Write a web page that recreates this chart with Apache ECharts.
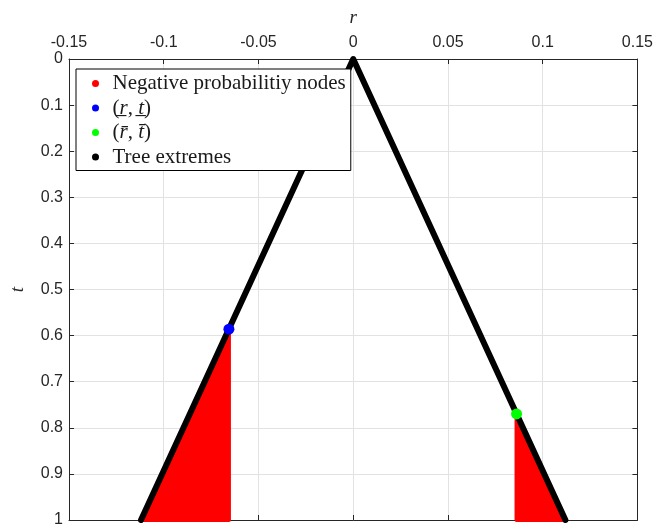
<!DOCTYPE html>
<html>
<head>
<meta charset="utf-8">
<script src="https://cdn.jsdelivr.net/npm/echarts@6/dist/echarts.min.js"></script>
<style>
  html, body { margin: 0; padding: 0; background: #ffffff; }
  #chart { width: 656px; height: 528px; }
</style>
</head>
<body>
<div id="chart"></div>
<script>
// Axis ticks: short rate r (top axis) and time t (left axis, downward)
const rTicks = [-0.15, -0.1, -0.05, 0, 0.05, 0.1, 0.15];
const rStep = 0.05;
const tTicks = [0, 0.1, 0.2, 0.3, 0.4, 0.5, 0.6, 0.7, 0.8, 0.9, 1];
const tStep = 0.1;

// Outer envelope of the trinomial tree: [r, t]
const treeExtremes = [[-0.112, 1], [0, 0], [0.112, 1]];

// First nodes where a branching probability turns negative
const lowerNegNode = [[-0.0656, 0.586]];   // (r_, t_)
const upperNegNode = [[0.0862, 0.770]];    // (r^-, t^-)

// Regions of nodes with negative probabilities: [r, t] vertices
const lowerNegRegion = [[-0.0656, 0.586], [-0.112, 1], [-0.0656, 1]];
const upperNegRegion = [[0.0862, 0.770], [0.112, 1], [0.0862, 1]];

const NAME_NEG = 'Negative probabilitiy nodes';
const NAME_LOW = '(r\u0332, t\u0332)';
const NAME_UP = '(r\u0304, t\u0304)';
const NAME_TREE = 'Tree extremes';

const AXIS_COLOR = '#262626';
const GRID_COLOR = '#e2e2e2';
const SANS = '"Liberation Sans", Arial, Helvetica, sans-serif';
const SERIF = '"Liberation Serif", "Times New Roman", serif';

function regionSeries(name, region) {
  return {
    type: 'custom',
    name: name,
    coordinateSystem: 'cartesian2d',
    data: region,
    encode: { x: 0, y: 1 },
    z: 1,
    clip: false,
    silent: true,
    itemStyle: { color: '#ff0000' },
    renderItem: function (params, api) {
      if (params.dataIndex !== 0) return null;
      const pts = region.map(function (p) { return api.coord(p); });
      return {
        type: 'polygon',
        shape: { points: pts },
        style: { fill: '#ff0000', stroke: '#ff0000', lineWidth: 4, lineJoin: 'round' }
      };
    }
  };
}

function legendText(name) {
  if (name === NAME_LOW) return '({i|r\u0332}, {i|t\u0332})';
  if (name === NAME_UP) return '({i|r\u0304}, {i|t\u0304})';
  return name;
}

const chart = echarts.init(document.getElementById('chart'), null, { renderer: 'canvas' });

chart.setOption({
  animation: false,
  backgroundColor: '#ffffff',
  grid: { left: 65, right: 17, top: 59, bottom: 8, containLabel: false },
  xAxis: [
    {
      type: 'value',
      position: 'top',
      min: rTicks[0],
      max: rTicks[rTicks.length - 1],
      interval: rStep,
      name: 'r',
      nameLocation: 'middle',
      nameGap: 32,
      nameMoveOverlap: false,
      nameTextStyle: { fontFamily: SERIF, fontStyle: 'italic', fontSize: 19, color: AXIS_COLOR },
      axisLine: { show: true, onZero: false, lineStyle: { color: AXIS_COLOR, width: 1 } },
      axisTick: { show: true, inside: true, length: 5, lineStyle: { color: AXIS_COLOR } },
      axisLabel: { fontFamily: SANS, fontSize: 16, color: AXIS_COLOR, margin: 8 },
      splitLine: { show: true, lineStyle: { color: GRID_COLOR, width: 1 } }
    },
    {
      type: 'value',
      position: 'bottom',
      min: rTicks[0],
      max: rTicks[rTicks.length - 1],
      interval: rStep,
      axisLine: { show: true, onZero: false, lineStyle: { color: AXIS_COLOR, width: 1 } },
      axisTick: { show: true, inside: true, length: 5, lineStyle: { color: AXIS_COLOR } },
      axisLabel: { show: false },
      splitLine: { show: false }
    }
  ],
  yAxis: [
    {
      type: 'value',
      position: 'left',
      inverse: true,
      min: tTicks[0],
      max: tTicks[tTicks.length - 1],
      interval: tStep,
      name: 't',
      nameLocation: 'middle',
      nameGap: 42,
      nameMoveOverlap: false,
      nameRotate: 90,
      nameTextStyle: { fontFamily: SERIF, fontStyle: 'italic', fontSize: 19, color: AXIS_COLOR },
      axisLine: { show: true, onZero: false, lineStyle: { color: AXIS_COLOR, width: 1 } },
      axisTick: { show: true, inside: true, length: 5, lineStyle: { color: AXIS_COLOR } },
      axisLabel: { fontFamily: SANS, fontSize: 16, color: AXIS_COLOR, margin: 6 },
      splitLine: { show: true, lineStyle: { color: GRID_COLOR, width: 1 } }
    },
    {
      type: 'value',
      position: 'right',
      inverse: true,
      min: tTicks[0],
      max: tTicks[tTicks.length - 1],
      interval: tStep,
      axisLine: { show: true, onZero: false, lineStyle: { color: AXIS_COLOR, width: 1 } },
      axisTick: { show: true, inside: true, length: 5, lineStyle: { color: AXIS_COLOR } },
      axisLabel: { show: false },
      splitLine: { show: false }
    }
  ],
  legend: {
    orient: 'vertical',
    left: 76,
    top: 69,
    padding: [4, 5, 3, 16],
    itemGap: 3.5,
    itemWidth: 24,
    itemHeight: 7,
    backgroundColor: '#ffffff',
    borderColor: '#000000',
    borderWidth: 1,
    selectedMode: false,
    data: [
      { name: NAME_NEG, icon: 'circle' },
      { name: NAME_LOW, icon: 'circle' },
      { name: NAME_UP, icon: 'circle' },
      { name: NAME_TREE, icon: 'circle' }
    ],
    formatter: legendText,
    textStyle: {
      fontFamily: SERIF,
      fontSize: 21,
      lineHeight: 20,
      color: '#1a1a1a',
      rich: {
        i: { fontFamily: SERIF, fontStyle: 'italic', fontSize: 21, lineHeight: 20, color: '#1a1a1a' }
      }
    }
  },
  series: [
    regionSeries(NAME_NEG, lowerNegRegion),
    regionSeries(NAME_NEG, upperNegRegion),
    {
      type: 'line',
      name: NAME_TREE,
      data: treeExtremes,
      z: 2,
      clip: false,
      silent: true,
      showSymbol: false,
      symbol: 'none',
      itemStyle: { color: '#000000' },
      lineStyle: { color: '#000000', width: 6, cap: 'round', join: 'round' }
    },
    {
      type: 'scatter',
      name: NAME_LOW,
      data: lowerNegNode,
      z: 3,
      symbol: 'circle',
      symbolSize: 11,
      silent: true,
      itemStyle: { color: '#0000ff', opacity: 1 }
    },
    {
      type: 'scatter',
      name: NAME_UP,
      data: upperNegNode,
      z: 3,
      symbol: 'circle',
      symbolSize: 11,
      silent: true,
      itemStyle: { color: '#00ff00', opacity: 1 }
    }
  ]
});
</script>
</body>
</html>
